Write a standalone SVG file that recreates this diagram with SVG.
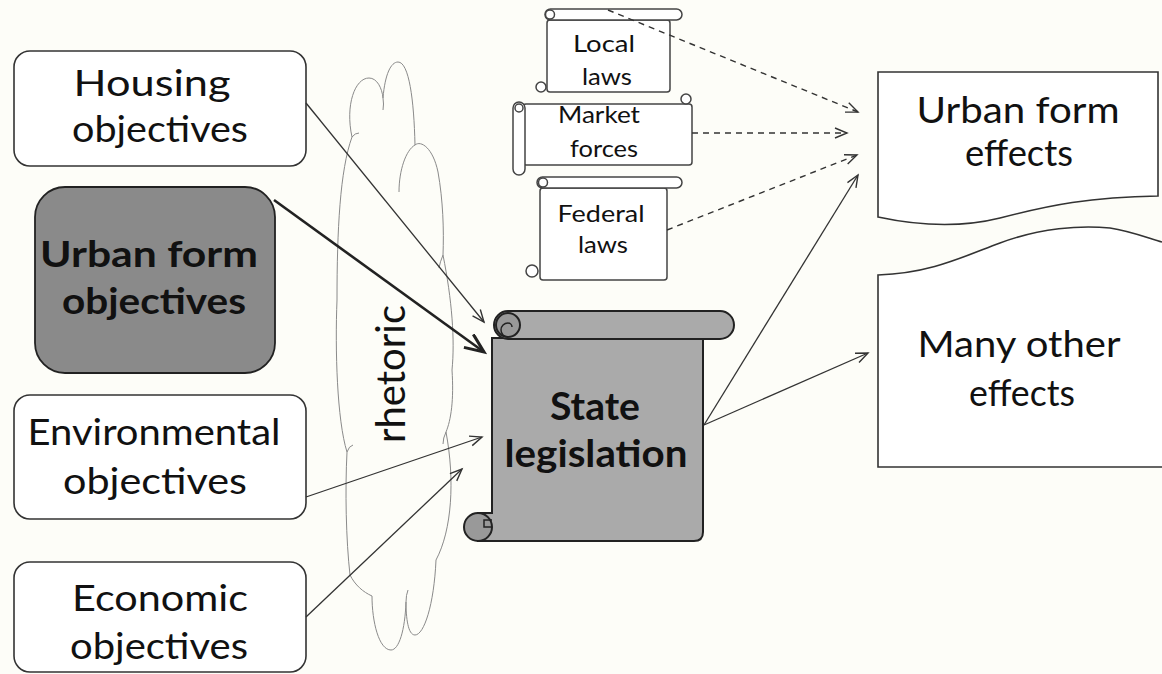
<svg xmlns="http://www.w3.org/2000/svg" width="1162" height="674" viewBox="0 0 1162 674">
<style>
.t{font-family:Lato,"Open Sans","Liberation Sans",sans-serif;fill:#111;text-anchor:middle}
.r{font-size:37px}
.b{font-size:37px;font-weight:bold}
.e{font-size:37px}
.s{font-size:24px}
.box{fill:#fff;stroke:#333;stroke-width:1.6}
.scr{fill:#fff;stroke:#444;stroke-width:1.5}
.gscr{fill:#aaaaaa;stroke:#222;stroke-width:2}
.cl{fill:none;stroke:#8a8a8a;stroke-width:1}
.ln{fill:none;stroke:#333;stroke-width:1.3}
.dash{fill:none;stroke:#333;stroke-width:1.4;stroke-dasharray:6,5}
</style>
<defs>
<marker id="ah" markerUnits="userSpaceOnUse" markerWidth="16" markerHeight="14" refX="13" refY="6" orient="auto">
<path d="M1,1 L13,6 L1,11" fill="none" stroke="#333" stroke-width="1.4" stroke-dasharray="none"/>
</marker>
<marker id="ahb" markerUnits="userSpaceOnUse" markerWidth="24" markerHeight="20" refX="20" refY="9" orient="auto">
<path d="M1,1 L20,9 L1,17" fill="none" stroke="#222" stroke-width="3"/>
</marker>
</defs>
<rect width="1162" height="674" fill="#fdfdf8"/>

<g id="cloud">
<path d="M352,137 C345,105 355,78 369,78 C377,78 382,88 383,98 C385,74 391,62 398,62 C409,62 414,100 415,145 C421,140 433,148 438,172 C443,200 444,230 443,255 C452,300 455,340 452,370 C454,400 451,420 446,432 C455,480 452,530 436,560 C434,605 424,635 415,635 C408,635 406,618 406,602 C405,630 399,650 391,650 C379,650 372,622 372,596 C363,592 355,585 350,575 C346,540 345,490 347,452 C337,420 335,350 337,300 C337,230 340,170 352,137 Z" fill="#fdfdf8" stroke="#8a8a8a" stroke-width="1"/>
<path class="cl" d="M383,98 Q384,104 383,110"/>
<path class="cl" d="M415,145 C406,150 399,170 399,192"/>
<path class="cl" d="M406,602 Q406,595 408,590"/>
<path class="cl" d="M352,137 Q355,133 359,133"/>
<path class="cl" d="M347,452 Q349,446 353,445"/>
<path class="cl" d="M443,255 Q440,262 439,268"/>
<path class="cl" d="M446,432 Q443,438 443,444"/>
<text class="t" transform="translate(405,374) rotate(-90)" style="font-size:40px" textLength="138" lengthAdjust="spacingAndGlyphs">rhetoric</text>
</g>

<g id="housing">
<rect class="box" x="14" y="51" width="292" height="115" rx="16"/>
<text class="t r" x="152" y="96" textLength="157" lengthAdjust="spacingAndGlyphs">Housing</text>
<text class="t r" x="160" y="142" textLength="176" lengthAdjust="spacingAndGlyphs">objectives</text>
</g>
<g id="urban-objectives">
<rect x="35" y="187" width="240" height="186" rx="30" fill="#8a8a8a" stroke="#222" stroke-width="1.8"/>
<text class="t b" x="149" y="267" textLength="218" lengthAdjust="spacingAndGlyphs">Urban form</text>
<text class="t b" x="154" y="314" textLength="184" lengthAdjust="spacingAndGlyphs">objectives</text>
</g>
<g id="environmental">
<rect class="box" x="14" y="395" width="292" height="124" rx="16"/>
<text class="t r" x="154" y="445" textLength="253" lengthAdjust="spacingAndGlyphs">Environmental</text>
<text class="t r" x="155" y="494" textLength="184" lengthAdjust="spacingAndGlyphs">objectives</text>
</g>
<g id="economic">
<rect class="box" x="14" y="562" width="292" height="110" rx="16"/>
<text class="t r" x="160" y="611" textLength="176" lengthAdjust="spacingAndGlyphs">Economic</text>
<text class="t r" x="159" y="659" textLength="178" lengthAdjust="spacingAndGlyphs">objectives</text>
</g>

<g id="local-laws">
<rect class="scr" x="547" y="20" width="123" height="72" rx="3"/>
<rect class="scr" x="545" y="9" width="137" height="11" rx="5.5"/>
<circle class="scr" cx="550" cy="14.5" r="4.5"/>
<circle class="scr" cx="541" cy="87" r="5"/>
<text class="t s" x="604" y="52" textLength="62" lengthAdjust="spacingAndGlyphs">Local</text>
<text class="t s" x="607" y="85" textLength="50" lengthAdjust="spacingAndGlyphs">laws</text>
</g>
<g id="market-forces">
<rect class="scr" x="523" y="104" width="169" height="61" rx="3"/>
<rect class="scr" x="513" y="102" width="12" height="73" rx="6"/>
<circle class="scr" cx="519" cy="108" r="4"/>
<circle class="scr" cx="686" cy="99" r="5"/>
<text class="t s" x="599" y="123" textLength="82" lengthAdjust="spacingAndGlyphs">Market</text>
<text class="t s" x="604" y="157" textLength="68" lengthAdjust="spacingAndGlyphs">forces</text>
</g>
<g id="federal-laws">
<rect class="scr" x="540" y="188" width="127" height="92" rx="3"/>
<rect class="scr" x="537" y="177" width="145" height="11" rx="5.5"/>
<circle class="scr" cx="543" cy="182.5" r="4.5"/>
<circle class="scr" cx="532" cy="271" r="6"/>
<text class="t s" x="601" y="222" textLength="87" lengthAdjust="spacingAndGlyphs">Federal</text>
<text class="t s" x="603" y="253" textLength="50" lengthAdjust="spacingAndGlyphs">laws</text>
</g>

<g id="state-legislation">
<path class="gscr" d="M492,338 H703 V532 Q703,541 694,541 H478 V513 H492 Z"/>
<rect class="gscr" x="494" y="311" width="240" height="28" rx="14"/>
<circle cx="508" cy="325" r="12" fill="#999" stroke="#222" stroke-width="2"/>
<path d="M508,337 A7,7 0 0 1 508,323 A4,4 0 0 1 512,327" fill="none" stroke="#222" stroke-width="1.5"/>
<circle cx="478" cy="527" r="14" fill="#999" stroke="#222" stroke-width="2"/>
<path d="M492,520 H484 V527 H492" fill="none" stroke="#222" stroke-width="1.5"/>
<text class="t" x="595" y="420" style="font-size:38px;font-weight:bold" textLength="90" lengthAdjust="spacingAndGlyphs">State</text>
<text class="t" x="596" y="467" style="font-size:38px;font-weight:bold" textLength="183" lengthAdjust="spacingAndGlyphs">legislation</text>
</g>

<g id="urban-effects">
<path class="box" d="M878,72 H1158 V196 C1090,197 1050,205 1000,218 C960,228 920,226 878,217 Z"/>
<text class="t e" x="1018" y="123" textLength="203" lengthAdjust="spacingAndGlyphs">Urban form</text>
<text class="t e" x="1019" y="166" textLength="108" lengthAdjust="spacingAndGlyphs">effects</text>
</g>
<g id="many-effects">
<path class="box" d="M1162,467 H878 V275 C930,273 960,258 1000,243 C1040,228 1080,225 1110,228 C1130,231 1148,238 1162,242"/>
<text class="t e" x="1019" y="357" textLength="203" lengthAdjust="spacingAndGlyphs">Many other</text>
<text class="t e" x="1022" y="406" textLength="106" lengthAdjust="spacingAndGlyphs">effects</text>
</g>

<g id="connectors">
<line class="ln" x1="306" y1="103" x2="484" y2="322" marker-end="url(#ah)"/>
<line x1="274" y1="200" x2="484" y2="352" stroke="#222" stroke-width="2.6" marker-end="url(#ahb)"/>
<line class="ln" x1="306" y1="497" x2="482" y2="437" marker-end="url(#ah)"/>
<line class="ln" x1="306" y1="617" x2="462" y2="469" marker-end="url(#ah)"/>
<line class="dash" x1="608" y1="10" x2="858" y2="112" marker-end="url(#ah)"/>
<line class="dash" x1="692" y1="133" x2="847" y2="133" marker-end="url(#ah)"/>
<line class="dash" x1="667" y1="230" x2="857" y2="155" marker-end="url(#ah)"/>
<line class="ln" x1="704" y1="425" x2="858" y2="175" marker-end="url(#ah)"/>
<line class="ln" x1="704" y1="425" x2="868" y2="353" marker-end="url(#ah)"/>
</g>
</svg>
